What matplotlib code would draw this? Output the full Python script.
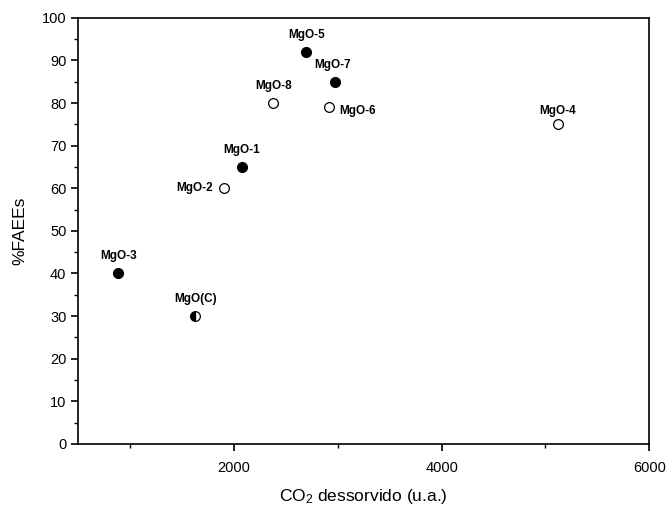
import matplotlib
matplotlib.use("Agg")
import matplotlib.pyplot as plt
from matplotlib.ticker import MultipleLocator

plt.rcParams['font.family'] = ['Liberation Sans', 'DejaVu Sans']
plt.rcParams['mathtext.fontset'] = 'custom'
plt.rcParams['mathtext.rm'] = 'Liberation Sans'
plt.rcParams['mathtext.it'] = 'Liberation Sans:italic'

# data
names = ["MgO-1", "MgO-2", "MgO-3", "MgO-4", "MgO-5", "MgO-6", "MgO-7", "MgO-8", "MgO(C)"]
co2 = [2076, 1900, 885, 5120, 2696, 2920, 2975, 2381, 1627]
faees = [65, 60, 40, 75, 92, 79, 85, 80, 30]
fill = ["full", "none", "full", "none", "full", "none", "full", "none", "left"]
# label offsets (points) and alignment
offsets = {
    "MgO-1": (0, 8, "center"), "MgO-2": (-8, 0, "right"), "MgO-3": (0, 8, "center"),
    "MgO-4": (0, 5, "center"), "MgO-5": (0, 8, "center"), "MgO-6": (7, -3, "left"),
    "MgO-7": (-2, 8, "center"), "MgO-8": (0, 8, "center"), "MgO(C)": (0, 8, "center"),
}

fig = plt.figure(figsize=(6.68, 5.09), dpi=100)
ax = fig.add_axes([0.117, 0.128, 0.855, 0.837])

for n, x, y, f in zip(names, co2, faees, fill):
    if f == "full":
        ax.plot(x, y, "o", ms=7, mfc="black", mec="black")
    elif f == "none":
        ax.plot(x, y, "o", ms=7, mfc="white", mec="black", mew=0.9)
    else:
        ax.plot(x, y, "o", ms=7, fillstyle="left", mfc="black",
                markerfacecoloralt="white", mec="black", mew=0.9)
    dx, dy, ha = offsets[n]
    va = "bottom" if dy > 0 else "center"
    ax.annotate(n, (x, y), xytext=(dx, dy), textcoords="offset points",
                ha=ha, va=va, fontsize=8.5, fontweight="bold")

ax.set_xlim(500, 6000)
ax.set_ylim(0, 100)
ax.xaxis.set_major_locator(MultipleLocator(2000))
ax.xaxis.set_minor_locator(MultipleLocator(1000))
ax.yaxis.set_major_locator(MultipleLocator(10))
ax.yaxis.set_minor_locator(MultipleLocator(5))
ax.tick_params(which="major", direction="out", length=5, width=1.2, labelsize=10.5)
ax.tick_params(axis="x", which="major", pad=7)
ax.tick_params(which="minor", direction="out", length=3, width=1.0)
for s in ax.spines.values():
    s.set_linewidth(1.2)

ax.set_xlabel("CO$_{\\mathit{2}}$ dessorvido (u.a.)", fontsize=12.5, labelpad=9)
ax.set_ylabel("%FAEEs", fontsize=12.5, labelpad=10)

fig.savefig("out.png", dpi=100)
